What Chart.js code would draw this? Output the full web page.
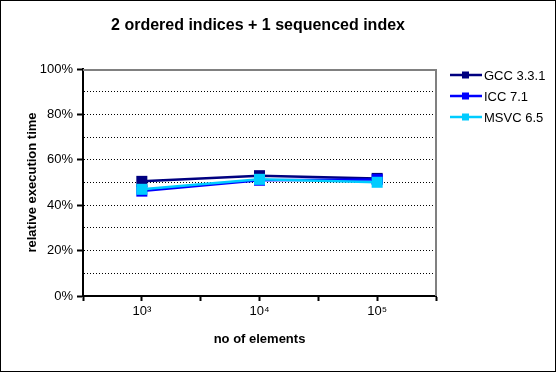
<!DOCTYPE html>
<html>
<head>
<meta charset="utf-8">
<script src="https://cdn.jsdelivr.net/npm/chart.js@4"></script>
<style>
  html, body { margin: 0; padding: 0; background: #fff; }
  #wrap { width: 556px; height: 372px; position: relative; }
</style>
</head>
<body>
<div id="wrap"><canvas id="chart" width="556" height="372"></canvas></div>
<script>
  // data
  var chartTitle = '2 ordered indices + 1 sequenced index';
  var categories = ['10\u00B3', '10\u2074', '10\u2075'];
  var seriesNames = ['GCC 3.3.1', 'ICC 7.1', 'MSVC 6.5'];
  var seriesColors = ['#000080', '#0000FF', '#00CCFF'];
  var gccValues = [50.5, 53, 51.8];
  var iccValues = [46.2, 51, 51.3];
  var msvcValues = [47, 51.4, 50.1];
  var yTicks = [0, 20, 40, 60, 80, 100];

  var fontName = '"Liberation Sans", Arial, sans-serif';

  function toPoints(values) {
    var pts = [];
    for (var i = 0; i < values.length; i++) {
      pts.push({ x: i + 1, y: values[i] });
    }
    return pts;
  }

  var allValues = [gccValues, iccValues, msvcValues];
  var datasets = [];
  for (var i = 0; i < seriesNames.length; i++) {
    datasets.push({
      label: seriesNames[i],
      data: toPoints(allValues[i]),
      borderColor: seriesColors[i],
      backgroundColor: seriesColors[i],
      borderWidth: 2.5,
      pointStyle: 'rect',
      pointRadius: 7.8,
      pointBorderWidth: 0,
      pointHoverRadius: 7.8,
      order: seriesNames.length - i
    });
  }

  // frame, plot border, title and legend
  var decorPlugin = {
    id: 'decor',
    beforeDraw: function(chart) {
      var ctx = chart.ctx;
      ctx.save();
      ctx.fillStyle = '#fff';
      ctx.fillRect(0, 0, chart.width, chart.height);
      ctx.restore();
    },
    afterDraw: function(chart) {
      var ctx = chart.ctx;
      var a = chart.chartArea;
      ctx.save();
      // gray top/right plot border
      ctx.strokeStyle = '#808080';
      ctx.lineWidth = 2;
      ctx.beginPath();
      ctx.moveTo(a.left, a.top + 1);
      ctx.lineTo(a.right, a.top + 1);
      ctx.lineTo(a.right, a.bottom);
      ctx.stroke();

      // outer frame
      ctx.strokeStyle = '#000';
      ctx.lineWidth = 1;
      ctx.strokeRect(0.5, 0.5, chart.width - 1, chart.height - 1);

      // title
      ctx.fillStyle = '#000';
      ctx.font = 'bold 16px ' + fontName;
      ctx.textAlign = 'center';
      ctx.textBaseline = 'middle';
      ctx.fillText(chartTitle, 258, 26);

      // legend
      ctx.font = '13px ' + fontName;
      ctx.textAlign = 'left';
      var ds = chart.data.datasets;
      for (var i = 0; i < ds.length; i++) {
        var y = 75 + i * 21;
        ctx.strokeStyle = ds[i].borderColor;
        ctx.lineWidth = 2.5;
        ctx.beginPath();
        ctx.moveTo(450, y);
        ctx.lineTo(482, y);
        ctx.stroke();
        ctx.fillStyle = ds[i].borderColor;
        ctx.fillRect(462, y - 3.5, 7, 7);
        ctx.fillStyle = '#000';
        ctx.fillText(ds[i].label, 484, y + 1);
      }
      ctx.restore();
    }
  };

  var ctx = document.getElementById('chart').getContext('2d');
  var chart = new Chart(ctx, {
    type: 'line',
    data: { datasets: datasets },
    options: {
      responsive: false,
      animation: false,
      layout: { padding: { left: 25, right: 120, top: 69, bottom: 25 } },
      plugins: {
        legend: { display: false },
        title: { display: false },
        tooltip: { enabled: false }
      },
      scales: {
        x: {
          type: 'linear',
          min: 0.5,
          max: 3.5,
          afterFit: function(scale) { scale.height = 51; },
          afterBuildTicks: function(scale) {
            var t = [];
            for (var v = 0.5; v <= 3.5; v += 0.5) t.push({ value: v });
            scale.ticks = t;
          },
          ticks: {
            autoSkip: false,
            maxRotation: 0,
            color: '#000',
            padding: 3,
            font: { family: fontName, size: 13 },
            callback: function(v) {
              return Number.isInteger(v) ? categories[v - 1] : '';
            }
          },
          grid: {
            drawOnChartArea: false,
            tickLength: 5,
            tickWidth: 2,
            tickColor: '#000'
          },
          border: { color: '#000', width: 2 },
          title: {
            display: true,
            text: 'no of elements',
            color: '#000',
            font: { family: fontName, size: 13, weight: 'bold' },
            padding: 0
          }
        },
        y: {
          min: 0,
          max: 100,
          afterFit: function(scale) { scale.width = 58; },
          afterBuildTicks: function(scale) {
            var t = [];
            for (var v = 0; v <= 100; v += 10) t.push({ value: v });
            scale.ticks = t;
          },
          ticks: {
            color: '#000',
            padding: 4,
            font: { family: fontName, size: 13 },
            callback: function(v) {
              return yTicks.indexOf(v) >= 0 ? v + '%' : '';
            }
          },
          grid: {
            color: function(c) {
              if (!c.tick) return 'rgba(0,0,0,0)';
              var v = c.tick.value;
              return (v === 0 || v === 100) ? 'rgba(0,0,0,0)' : '#000';
            },
            lineWidth: 1,
            tickLength: 6,
            tickWidth: 2,
            tickColor: function(c) {
              if (!c.tick) return '#000';
              return yTicks.indexOf(c.tick.value) >= 0 ? '#000' : 'rgba(0,0,0,0)';
            }
          },
          border: { color: '#000', width: 2, dash: [1, 2] },
          title: {
            display: true,
            text: 'relative execution time',
            color: '#000',
            font: { family: fontName, size: 13, weight: 'bold' },
            padding: 0
          }
        }
      }
    },
    plugins: [decorPlugin]
  });
</script>
</body>
</html>
